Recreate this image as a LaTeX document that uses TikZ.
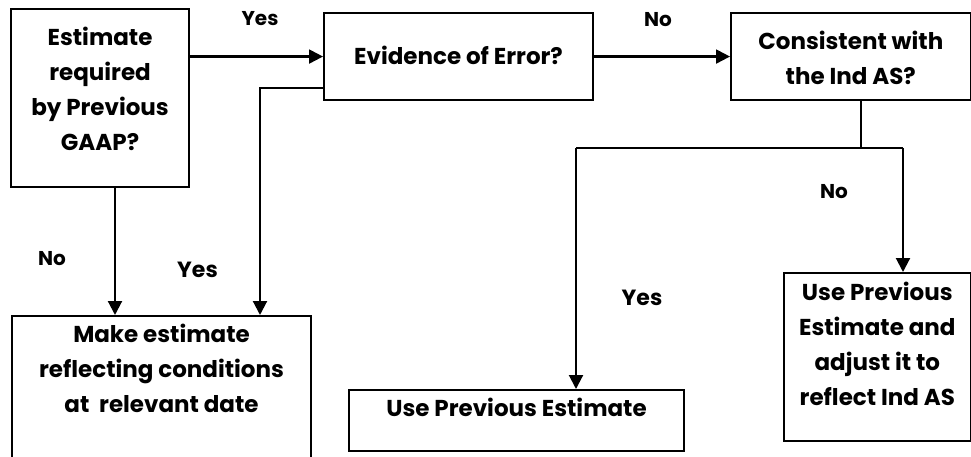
\documentclass[tikz,border=0pt]{standalone}
\usepackage{fontspec}
\setmainfont{Poppins}
\usetikzlibrary{arrows.meta}
\newcommand{\caixatexto}[4]{\parbox[c][#2][t]{#1}{\centering\vspace*{#3}#4}}

\begin{document}
\begin{tikzpicture}[x=1pt, y=-1pt,
	caixa/.style={draw, line width=2.1pt, inner sep=0pt, anchor=north west, font=\fontsize{23}{35}\selectfont\bfseries},
	seta/.style={line width=2.1pt, -{Triangle[length=14pt,width=14pt]}},
	linha/.style={line width=2.1pt},
	rotulo/.style={inner sep=0pt, font=\fontsize{20}{22}\selectfont\bfseries}] %Início do fluxograma
	\useasboundingbox (0,0) rectangle (971,457); %Área da figura
	\clip (0,0) rectangle (971,457);
		%Caixas
	\node[caixa] (gaap) at (10,8) {\caixatexto{178pt}{178pt}{18pt}{Estimate\\required\\by Previous\\GAAP?}};
	\node[caixa] (erro) at (323,12) {\caixatexto{269pt}{87pt}{33pt}{Evidence of Error?}};
	\node[caixa] (consist) at (730,12) {\caixatexto{239.5pt}{87pt}{18.5pt}{Consistent with\\the Ind AS?}};
	\node[caixa] (novaest) at (11,315) {\caixatexto{299pt}{170pt}{8.5pt}{Make estimate\\reflecting conditions\\at\ \ relevant date}};
	\node[caixa] (anterior) at (348,389) {\caixatexto{335pt}{61pt}{8.5pt}{Use Previous Estimate}};
	\node[caixa] (ajuste) at (783,272) {\caixatexto{186.5pt}{168pt}{9.5pt}{Use Previous\\Estimate and\\adjust it to\\reflect Ind AS}};
		%Pontos de quebra das ligações
	\coordinate (c1) at (115,0);
	\coordinate (c2) at (260,88);
	\coordinate (c3) at (861,148);
	\coordinate (c4) at (576,148);
	\coordinate (c5) at (903,148);
		%Ligações
	\draw[seta] (gaap.east |- erro.west) -- (erro.west); %Sim
	\draw[seta] (erro.east) -- (consist.west); %Não
	\draw[seta] (gaap.south -| c1) -- (novaest.north -| c1); %Não
	\draw[seta] (erro.west |- c2) -| (novaest.north -| c2); %Sim
	\draw[linha] (consist.south -| c3) -- (c3);
	\draw[linha] (c4) -- (c5);
	\draw[seta] (c4) -- (anterior.north -| c4); %Sim
	\draw[seta] (c5) -- (ajuste.north -| c5); %Não
		%Rótulos
	\node[rotulo] (sim1) at (260,18.5) {Yes};
	\node[rotulo] (nao1) at (658,19.5) {No};
	\node[rotulo] (nao2) at (52,259) {No};
	\node[rotulo, font=\fontsize{22}{24}\selectfont\bfseries] (sim2) at (197.5,270) {Yes};
	\node[rotulo] (nao3) at (834,192) {No};
	\node[rotulo, font=\fontsize{22}{24}\selectfont\bfseries] (sim3) at (642,297.5) {Yes};
\end{tikzpicture}
\end{document}
